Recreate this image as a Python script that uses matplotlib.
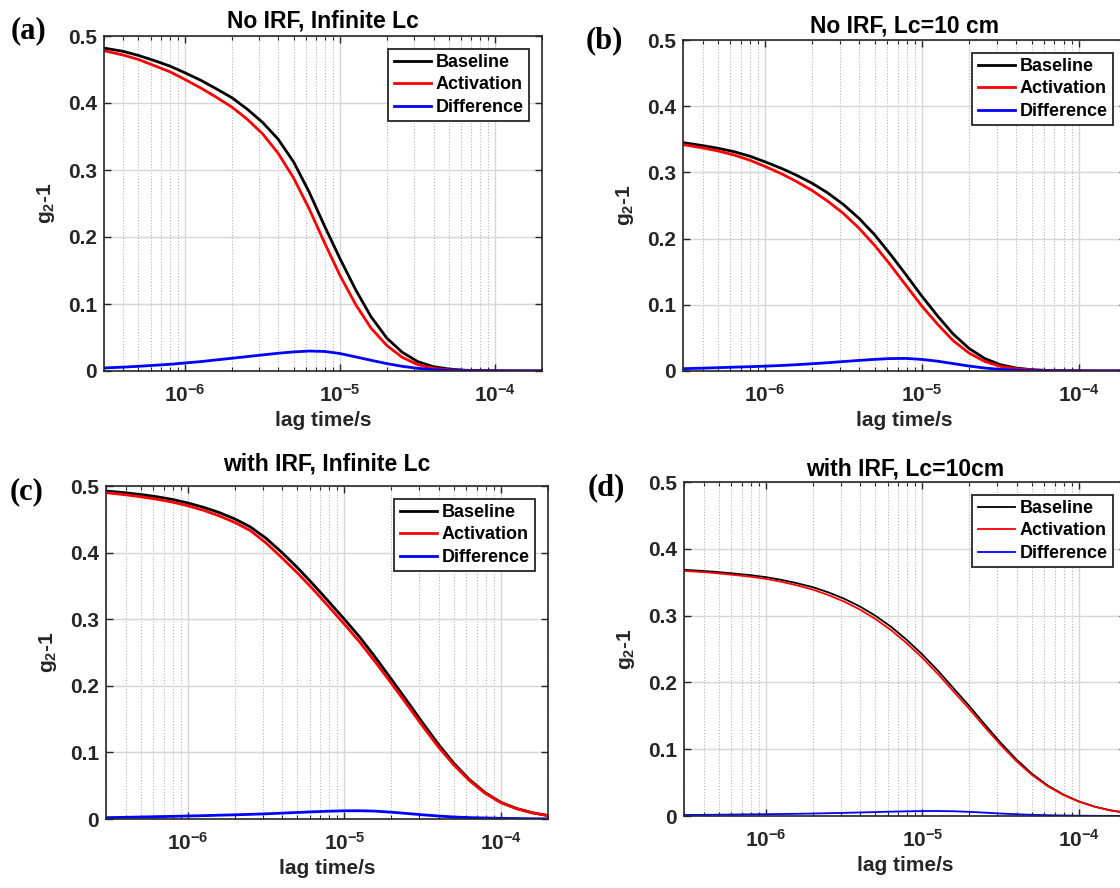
import matplotlib
matplotlib.use('Agg')
import matplotlib.pyplot as plt
import numpy as np
from matplotlib.ticker import LogLocator, FixedLocator, FixedFormatter, NullFormatter

plt.rcParams['font.family'] = ['Liberation Sans', 'DejaVu Sans']
plt.rcParams['font.weight'] = 'bold'
plt.rcParams['mathtext.fontset'] = 'custom'
plt.rcParams['mathtext.rm'] = 'Liberation Sans:bold'
plt.rcParams['mathtext.bf'] = 'Liberation Sans:bold'
plt.rcParams['mathtext.it'] = 'Liberation Sans:bold'
plt.rcParams['mathtext.default'] = 'bf'

# lag times (s), ~0.1 decade apart, values at each
t = [3e-7, 4e-7, 5e-7, 6.3e-7, 8e-7, 1e-6, 1.26e-6, 1.58e-6, 2e-6, 2.51e-6, 3.16e-6, 3.98e-6,
     5.01e-6, 6.31e-6, 7.94e-6, 1e-5, 1.26e-5, 1.58e-5, 2e-5, 2.51e-5, 3.16e-5, 3.98e-5,
     5.01e-5, 6.31e-5, 7.94e-5, 1e-4, 1.26e-4, 1.58e-4, 2e-4]

# (a) No IRF, infinite Lc
base_a = [0.482, 0.477, 0.471, 0.4635, 0.455, 0.445, 0.434, 0.4215, 0.408, 0.391, 0.371, 0.346,
          0.312, 0.267, 0.216, 0.167, 0.121, 0.081, 0.049, 0.028, 0.014, 0.0065, 0.003, 0.0012,
          0.0005, 0.0002, 0.0001, 0.0, 0.0]
act_a = [0.478, 0.4715, 0.465, 0.456, 0.4465, 0.435, 0.4225, 0.409, 0.394, 0.376, 0.354, 0.325,
         0.288, 0.242, 0.191, 0.142, 0.099, 0.064, 0.038, 0.0205, 0.0095, 0.004, 0.0018, 0.0008,
         0.0003, 0.0001, 0.0, 0.0, 0.0]
diff_a = [0.0045, 0.0058, 0.007, 0.0085, 0.010, 0.012, 0.014, 0.0165, 0.019, 0.0215, 0.024, 0.0265,
          0.0285, 0.0298, 0.0292, 0.026, 0.021, 0.016, 0.011, 0.007, 0.004, 0.002, 0.001, 0.0005,
          0.0002, 0.0001, 0.0, 0.0, 0.0]

# (b) No IRF, Lc = 10 cm
base_b = [0.345, 0.3405, 0.3365, 0.3315, 0.3245, 0.316, 0.3065, 0.296, 0.2835, 0.269, 0.2515, 0.2305,
          0.2055, 0.176, 0.145, 0.113, 0.083, 0.056, 0.034, 0.019, 0.0095, 0.0045, 0.002, 0.0008,
          0.0003, 0.0001, 0.0, 0.0, 0.0]
act_b = [0.342, 0.337, 0.3325, 0.3265, 0.3185, 0.309, 0.2985, 0.2865, 0.2725, 0.2565, 0.238, 0.2155,
         0.1895, 0.160, 0.129, 0.098, 0.0705, 0.046, 0.027, 0.0145, 0.007, 0.0033, 0.0015, 0.0006,
         0.0002, 0.0001, 0.0, 0.0, 0.0]
diff_b = [0.0035, 0.0043, 0.005, 0.0058, 0.0065, 0.0073, 0.0083, 0.0095, 0.011, 0.0125, 0.0143, 0.016,
          0.0176, 0.0188, 0.019, 0.0175, 0.0148, 0.0112, 0.0075, 0.0045, 0.0025, 0.0013, 0.0006,
          0.0003, 0.0001, 0.0, 0.0, 0.0, 0.0]

# (c) with IRF, infinite Lc
base_c = [0.4925, 0.4898, 0.4872, 0.484, 0.4797, 0.4745, 0.468, 0.4603, 0.4505, 0.4385, 0.4215, 0.4005,
          0.3775, 0.3525, 0.3265, 0.300, 0.2725, 0.2425, 0.2095, 0.1775, 0.1445, 0.1125, 0.0835,
          0.059, 0.0395, 0.025, 0.0158, 0.0095, 0.0052]
act_c = [0.490, 0.4868, 0.4838, 0.4803, 0.4757, 0.4703, 0.4635, 0.4553, 0.4452, 0.433, 0.4145, 0.3925,
         0.3695, 0.345, 0.319, 0.2925, 0.265, 0.2355, 0.2035, 0.172, 0.1395, 0.1085, 0.081,
         0.0575, 0.0385, 0.0245, 0.0155, 0.0093, 0.0051]
diff_c = [0.002, 0.0025, 0.003, 0.0035, 0.004, 0.0045, 0.005, 0.0057, 0.0063, 0.007, 0.0078, 0.0088,
          0.0098, 0.0108, 0.0117, 0.0123, 0.0124, 0.0118, 0.0102, 0.0083, 0.0063, 0.0045, 0.003,
          0.0021, 0.0015, 0.001, 0.0007, 0.0004, 0.0002]

# (d) with IRF, Lc = 10 cm
base_d = [0.3686, 0.3668, 0.3651, 0.3629, 0.3605, 0.3576, 0.3535, 0.3485, 0.3425, 0.3348, 0.3253, 0.3138,
          0.2998, 0.2833, 0.2638, 0.2418, 0.2173, 0.1913, 0.1643, 0.1368, 0.1098, 0.0848, 0.0633,
          0.0458, 0.0323, 0.0218, 0.0141, 0.0086, 0.0049]
act_d = [0.367, 0.3651, 0.3632, 0.3608, 0.3582, 0.355, 0.3506, 0.3453, 0.3388, 0.3308, 0.321, 0.3092,
         0.295, 0.2783, 0.2587, 0.2368, 0.2123, 0.1866, 0.1599, 0.1328, 0.1065, 0.0822, 0.0615,
         0.0447, 0.0316, 0.0214, 0.0139, 0.0085, 0.0048]
diff_d = [0.0015, 0.0017, 0.002, 0.0022, 0.0025, 0.0027, 0.003, 0.0033, 0.0037, 0.0042, 0.0047, 0.0053,
          0.0059, 0.0065, 0.007, 0.0074, 0.0075, 0.0071, 0.0062, 0.005, 0.0037, 0.0026, 0.0018,
          0.0012, 0.0008, 0.0005, 0.0003, 0.0002, 0.0001]

titles = ['No IRF, Infinite Lc', 'No IRF, Lc=10 cm', 'with IRF, Infinite Lc', 'with IRF, Lc=10cm']
letters = ['(a)', '(b)', '(c)', '(d)']
labels = ['Baseline', 'Activation', 'Difference']
yticks = [0, 0.1, 0.2, 0.3, 0.4, 0.5]
ytick_labels = ['0', '0.1', '0.2', '0.3', '0.4', '0.5']
xticks = [1e-6, 1e-5, 1e-4]
xtick_labels = [r'$\mathbf{10^{-6}}$', r'$\mathbf{10^{-5}}$', r'$\mathbf{10^{-4}}$']

W, H = 1120, 888
# axes boxes in pixels: left, right, top, bottom (right panels run past the edge)
boxes = [(104, 542, 36, 371), (683, 1126, 40, 371), (106, 548, 486, 819), (684, 1126, 482, 816)]
letter_pos = [(28, 31), (604, 41), (27, 492), (606, 488)]
title_pads = [6, 5.5, 11, 4.5]

panels = [(base_a, act_a, diff_a, 2.0),
          (base_b, act_b, diff_b, 2.0),
          (base_c, act_c, diff_c, 2.0),
          (base_d, act_d, diff_d, 1.3)]

fig = plt.figure(figsize=(W / 100, H / 100), dpi=100)

for i, (base, act, diff, lw) in enumerate(panels):
    l, r, tp, b = boxes[i]
    ax = fig.add_axes([l / W, 1 - b / H, (r - l) / W, (b - tp) / H])
    ax.plot(t, base, color='k', lw=lw, label=labels[0])
    ax.plot(t, act, color='#ff0000', lw=lw, label=labels[1])
    ax.plot(t, diff, color='#0000ff', lw=lw, label=labels[2])
    ax.set_xscale('log')
    ax.set_xlim(3e-7, 2e-4)
    ax.set_ylim(0, 0.5)

    ax.xaxis.set_major_locator(FixedLocator(xticks))
    ax.xaxis.set_major_formatter(FixedFormatter(xtick_labels))
    ax.xaxis.set_minor_locator(LogLocator(base=10, subs=np.arange(2, 10)))
    ax.xaxis.set_minor_formatter(NullFormatter())
    ax.set_yticks(yticks)
    ax.set_yticklabels(ytick_labels)

    ax.grid(True, which='major', color='#d6d6d6', lw=1.0, ls='-')
    ax.grid(True, which='minor', axis='x', color='#b4b4b4', lw=0.8, ls=':')
    ax.set_axisbelow(True)

    ax.tick_params(which='both', direction='in', top=True, right=True, colors='#262626',
                   labelcolor='#262626')
    ax.tick_params(which='major', length=5, width=1.0, labelsize=15)
    ax.tick_params(which='minor', length=3, width=0.8)
    ax.tick_params(axis='x', which='major', pad=9)
    ax.tick_params(axis='y', which='major', pad=5)
    for sp in ax.spines.values():
        sp.set_color('#262626')
        sp.set_linewidth(1.2)

    ax.set_xlabel('lag time/s', fontsize=15, fontweight='bold', color='#262626', labelpad=4)
    ax.set_ylabel('g$_2$-1', fontsize=15, fontweight='bold', color='#262626', labelpad=8)
    ax.set_title(titles[i], fontsize=16.5, fontweight='bold', color='#000000', pad=title_pads[i])

    leg = ax.legend(loc='upper right', fontsize=13, frameon=True, fancybox=False,
                    edgecolor='#262626', framealpha=1, borderaxespad=0.7,
                    handlelength=2.1, handletextpad=0.25, borderpad=0.3, labelspacing=0.3)
    leg.get_frame().set_linewidth(1.3)

    lx, ly = letter_pos[i]
    fig.text(lx / W, 1 - ly / H, letters[i], fontsize=22, fontweight='bold',
             family=['Liberation Serif', 'DejaVu Serif'], ha='center', va='center')

fig.savefig('out.png', dpi=100)
